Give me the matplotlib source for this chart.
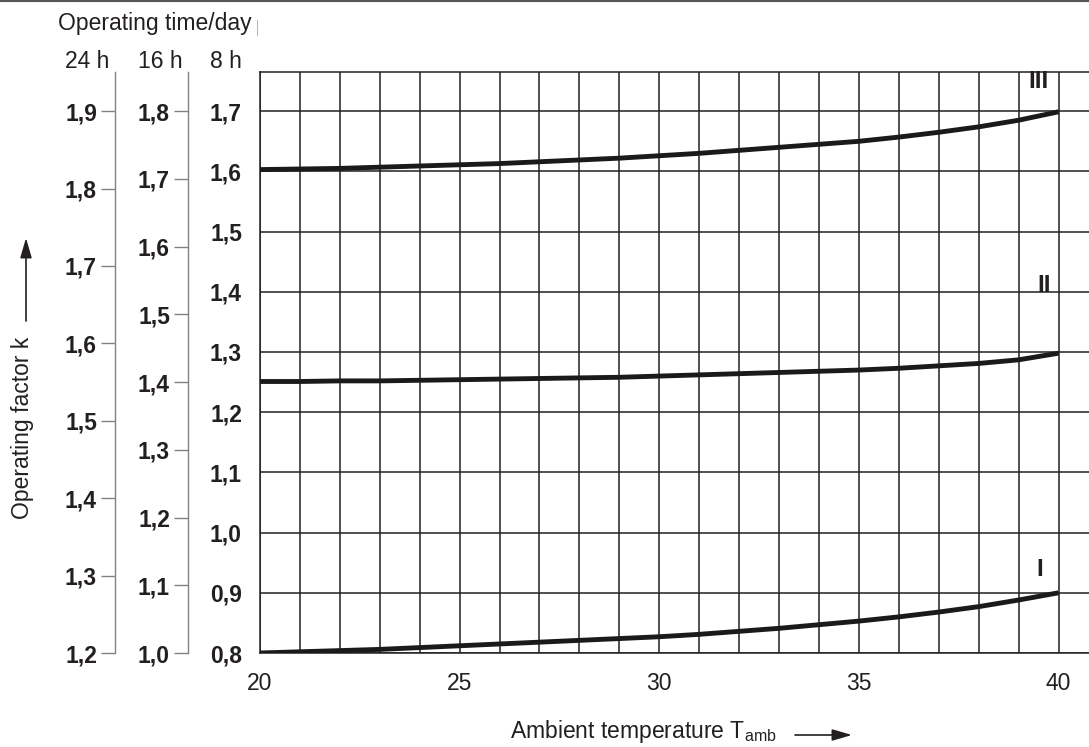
import numpy as np
import matplotlib
matplotlib.use("Agg")
from matplotlib import pyplot as plt
from matplotlib.lines import Line2D
from matplotlib.ticker import FixedLocator, MultipleLocator

plt.rcParams['font.family'] = ['Liberation Sans', 'DejaVu Sans']
plt.rcParams['mathtext.fontset'] = 'custom'
plt.rcParams['mathtext.rm'] = 'Liberation Sans'
plt.rcParams['mathtext.it'] = 'Liberation Sans'

# ambient temperature (deg C)
temps = np.arange(20, 41)
# operating factor k on the 8 h scale
curve_I = [0.800, 0.802, 0.804, 0.806, 0.809, 0.812, 0.815, 0.818, 0.821, 0.824, 0.827,
           0.831, 0.836, 0.841, 0.847, 0.853, 0.860, 0.868, 0.877, 0.888, 0.900]
curve_II = [1.251, 1.251, 1.252, 1.252, 1.253, 1.254, 1.255, 1.256, 1.257, 1.258, 1.260,
            1.262, 1.264, 1.266, 1.268, 1.270, 1.273, 1.277, 1.281, 1.287, 1.298]
curve_III = [1.603, 1.604, 1.605, 1.607, 1.609, 1.611, 1.613, 1.616, 1.619, 1.622, 1.626,
             1.630, 1.635, 1.640, 1.645, 1.650, 1.657, 1.665, 1.674, 1.685, 1.699]

x_ticks = [20, 25, 30, 35, 40]
k8_ticks = [0.8, 0.9, 1.0, 1.1, 1.2, 1.3, 1.4, 1.5, 1.6, 1.7]
k16_ticks = [1.0, 1.1, 1.2, 1.3, 1.4, 1.5, 1.6, 1.7, 1.8]
k24_ticks = [1.2, 1.3, 1.4, 1.5, 1.6, 1.7, 1.8, 1.9]

W, H = 1089, 747
DARK = '#231f20'
GRAY = '#808285'

fig = plt.figure(figsize=(W / 100, H / 100), dpi=100)

# main axes in pixel coords
L, R, T, B = 260, 1089, 72, 653
ax = fig.add_axes([L / W, 1 - B / H, (R - L) / W, (B - T) / H])

xlo, xhi = 20, 20 + (R - L) / 39.925
ylo, yhi = 0.8, 0.8 + (B - T) / 602.0
ax.set_xlim(xlo, xhi)
ax.set_ylim(ylo, yhi)

def fmt(v):
    return f"{v:.1f}".replace('.', ',')

ax.xaxis.set_major_locator(FixedLocator(x_ticks))
ax.xaxis.set_minor_locator(MultipleLocator(1))
ax.set_xticklabels([str(t) for t in x_ticks])
ax.yaxis.set_major_locator(FixedLocator(k8_ticks))
ax.set_yticklabels([fmt(v) for v in k8_ticks], fontweight='bold')
ax.tick_params(axis='both', which='both', length=0, colors=DARK, labelsize=16.5)
ax.tick_params(axis='x', pad=14)
ax.tick_params(axis='y', pad=13)

ax.grid(True, which='both', color=DARK, linewidth=1.1)
ax.set_axisbelow(True)
ax.spines['right'].set_visible(False)
for s in ['left', 'top', 'bottom']:
    ax.spines[s].set_color(DARK)
    ax.spines[s].set_linewidth(1.1)

for ys in (curve_I, curve_II, curve_III):
    ax.plot(temps, ys, color='#1a1a1a', linewidth=3.5, solid_capstyle='butt', zorder=3)

ax.text(39.51, 1.750, 'III', fontsize=17.5, fontweight='bold', ha='center', va='center', color=DARK)
ax.text(39.64, 1.411, 'II', fontsize=17.5, fontweight='bold', ha='center', va='center', color=DARK)
ax.text(39.54, 0.938, 'I', fontsize=17.5, fontweight='bold', ha='center', va='center', color=DARK)

# secondary scales (16 h and 24 h)
def side_scale(x_px, lo, hi, ticks):
    a = ax.twinx()
    for s in ['right', 'top', 'bottom']:
        a.spines[s].set_visible(False)
    a.spines['left'].set_visible(True)
    a.spines['left'].set_position(('axes', (x_px - L) / (R - L)))
    a.spines['left'].set_color(GRAY)
    a.spines['left'].set_linewidth(1.0)
    a.yaxis.set_ticks_position('left')
    f = (hi - lo) / 0.9
    a.set_ylim(lo + (ylo - 0.8) * f, lo + (yhi - 0.8) * f)
    a.yaxis.set_major_locator(FixedLocator(ticks))
    a.set_yticklabels([fmt(v) for v in ticks], fontweight='bold')
    a.tick_params(axis='y', length=10, width=1.0, color=GRAY, labelcolor=DARK,
                  labelsize=16.5, pad=3)
    return a

ax16 = side_scale(188, 1.0, 1.8, k16_ticks)
ax24 = side_scale(115, 1.2, 1.9, k24_ticks)

# headers
def fy(y):
    return 1 - y / H

fig.text(58 / W, fy(30), 'Operating time/day', fontsize=16.5, color=DARK, ha='left', va='baseline')
fig.text(87 / W, fy(68), '24 h', fontsize=16.5, color=DARK, ha='center', va='baseline')
fig.text(160 / W, fy(68), '16 h', fontsize=16.5, color=DARK, ha='center', va='baseline')
fig.text(225.5 / W, fy(68), '8 h', fontsize=16.5, color=DARK, ha='center', va='baseline')
fig.add_artist(Line2D([257 / W, 257 / W], [fy(20), fy(35)], color='#bbbbbb', linewidth=0.8))
fig.add_artist(Line2D([0, 1], [fy(0.8), fy(0.8)], color='#555555', linewidth=1.5))

# y label with arrow
fig.text(23 / W, fy(428), 'Operating factor k', fontsize=16.5, color=DARK, rotation=90,
         ha='center', va='center')
ax.annotate('', xy=(26 / W, fy(238)), xytext=(26 / W, fy(321)),
            xycoords='figure fraction', textcoords='figure fraction',
            arrowprops=dict(arrowstyle='-|>,head_length=1.2,head_width=0.35',
                            color=DARK, linewidth=1.2, shrinkA=0, shrinkB=0))

# x label with arrow
fig.text(510 / W, fy(738), r'Ambient temperature T$_{\mathrm{amb}}$', fontsize=16.5, color=DARK,
         ha='left', va='baseline')
ax.annotate('', xy=(852 / W, fy(735)), xytext=(795 / W, fy(735)),
            xycoords='figure fraction', textcoords='figure fraction',
            arrowprops=dict(arrowstyle='-|>,head_length=1.2,head_width=0.35',
                            color=DARK, linewidth=1.2, shrinkA=0, shrinkB=0))

fig.savefig('out.png', dpi=100, facecolor='white')
